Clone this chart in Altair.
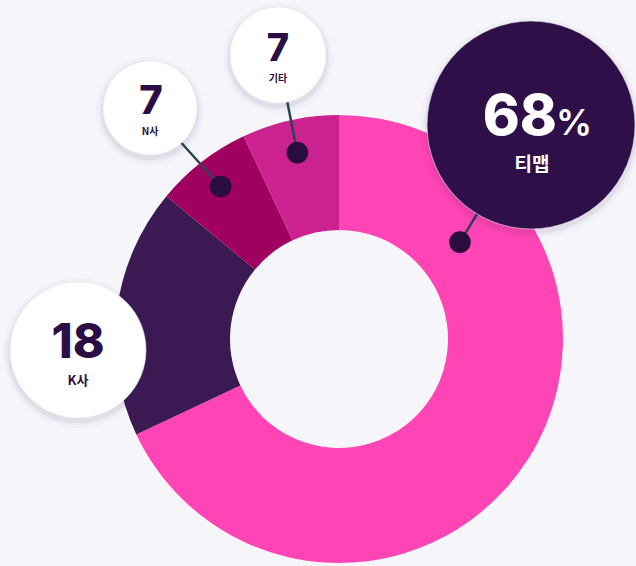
import math
import altair as alt
import pandas as pd

# ---------------- data ----------------
labels = ["티맵", "K사", "N사", "기타"]
values = [68, 18, 7, 7]
number_text = ["68", "18", "7", "7"]
unit_text = ["%", "", "", ""]

# ---------------- style / layout ----------------
W, H = 636, 566
BG = "#F6F5FA"
seg_colors = ["#FF45B5", "#3B1A53", "#A0005F", "#CB2290"]
CX, CY = 339, 339
R_OUT, R_IN = 224, 109

bubble_xy = {"티맵": (531, 125), "K사": (78, 350), "N사": (150, 108), "기타": (278, 55)}
bubble_r = {"티맵": 104, "K사": 68, "N사": 47, "기타": 48}
bubble_fill = {"티맵": "#2E0F48", "K사": "#FFFFFF", "N사": "#FFFFFF", "기타": "#FFFFFF"}
text_fill = {"티맵": "#FFFFFF", "K사": "#2A0E45", "N사": "#2A0E45", "기타": "#2A0E45"}
num_size = {"티맵": 56, "K사": 48, "N사": 40, "기타": 38}
num_dy = {"티맵": 10, "K사": 8, "N사": 6, "기타": 6}
num_dx = {"티맵": 26, "K사": 0, "N사": 1, "기타": 0}
lab_size = {"티맵": 19, "K사": 13, "N사": 10, "기타": 10}
lab_dy = {"티맵": 40, "K사": 31, "N사": 24, "기타": 24}
# dot: (angle in degrees clockwise from 12 o'clock or None = segment middle, radius)
dot_spec = {"티맵": (51.3, 155), "N사": (None, 193), "기타": (None, 191)}

total = sum(values)
starts, ends = [], []
acc = 0
for v in values:
    starts.append(acc / total * 360)
    acc += v
    ends.append(acc / total * 360)

seg_df = pd.DataFrame({"label": labels, "value": values, "idx": list(range(len(labels)))})

bub_rows, shadow_rows, line_rows, dot_rows, num_rows, unit_rows, lab_rows = [], [], [], [], [], [], []
for i, lab in enumerate(labels):
    bx, by = bubble_xy[lab]
    r = bubble_r[lab]
    bub_rows.append({"label": lab, "x": bx, "y": by, "s": (2 * r) ** 2, "fill": bubble_fill[lab]})
    for k, op in [(7, 0.025), (4, 0.035), (2, 0.05)]:
        shadow_rows.append({"label": lab, "x": bx, "y": by + 3, "s": (2 * (r + k)) ** 2, "op": op})
    if lab in dot_spec:
        ang, rad = dot_spec[lab]
        if ang is None:
            ang = (starts[i] + ends[i]) / 2
        a = math.radians(ang)
        dx = CX + rad * math.sin(a)
        dy = CY - rad * math.cos(a)
        dot_rows.append({"label": lab, "x": dx, "y": dy})
        line_rows.append({"label": lab, "x": bx, "y": by, "x2": dx, "y2": dy})
    num_rows.append({"label": lab, "x": bx + num_dx[lab], "y": by + num_dy[lab],
                     "t": number_text[i], "fs": num_size[lab], "c": text_fill[lab]})
    if unit_text[i]:
        unit_rows.append({"label": lab, "x": bx + num_dx[lab] - 1, "y": by + num_dy[lab],
                          "t": unit_text[i], "fs": 36, "c": text_fill[lab]})
    lab_rows.append({"label": lab, "x": bx + (1 if lab == "티맵" else 0), "y": by + lab_dy[lab],
                     "t": lab, "fs": lab_size[lab], "c": text_fill[lab]})

xs = alt.Scale(domain=[0, W], nice=False, zero=False)
ys = alt.Scale(domain=[0, H], nice=False, zero=False, reverse=True)
X = lambda: alt.X("x:Q", scale=xs, axis=None)
Y = lambda: alt.Y("y:Q", scale=ys, axis=None)

donut = alt.Chart(seg_df).mark_arc(radius=R_OUT, radius2=R_IN, stroke=None).encode(
    theta=alt.Theta("value:Q", stack=True),
    order=alt.Order("idx:Q"),
    color=alt.Color("label:N", scale=alt.Scale(domain=labels, range=seg_colors), legend=None),
    x=alt.value(CX),
    y=alt.value(CY),
)

shadows = alt.Chart(pd.DataFrame(shadow_rows)).mark_circle(color="#3A2A5A").encode(
    x=X(), y=Y(), size=alt.Size("s:Q", scale=None, legend=None),
    opacity=alt.Opacity("op:Q", scale=None, legend=None),
)

lines = alt.Chart(pd.DataFrame(line_rows)).mark_rule(color="#2C4255", strokeWidth=2.5).encode(
    x=X(), y=Y(), x2="x2:Q", y2="y2:Q"
)

dots = alt.Chart(pd.DataFrame(dot_rows)).mark_circle(color="#2A0C3E", opacity=1, size=470).encode(
    x=X(), y=Y()
)

bubbles = alt.Chart(pd.DataFrame(bub_rows)).mark_circle(opacity=1, stroke="#E9E7F0", strokeWidth=0.6).encode(
    x=X(), y=Y(), size=alt.Size("s:Q", scale=None, legend=None),
    color=alt.Color("fill:N", scale=None, legend=None),
)

num_df = pd.DataFrame(num_rows)
nums_c = alt.Chart(num_df[num_df["label"] != "티맵"]).mark_text(
    font="Inter", fontWeight=800, align="center", baseline="alphabetic"
).encode(
    x=X(), y=Y(), text="t:N", size=alt.Size("fs:Q", scale=None, legend=None),
    color=alt.Color("c:N", scale=None, legend=None),
)
nums_r = alt.Chart(num_df[num_df["label"] == "티맵"]).mark_text(
    font="Inter", fontWeight=800, align="right", baseline="alphabetic"
).encode(
    x=X(), y=Y(), text="t:N", size=alt.Size("fs:Q", scale=None, legend=None),
    color=alt.Color("c:N", scale=None, legend=None),
)
units = alt.Chart(pd.DataFrame(unit_rows)).mark_text(
    font="Inter", fontWeight=600, align="left", baseline="alphabetic"
).encode(
    x=X(), y=Y(), text="t:N", size=alt.Size("fs:Q", scale=None, legend=None),
    color=alt.Color("c:N", scale=None, legend=None),
)
labs = alt.Chart(pd.DataFrame(lab_rows)).mark_text(
    font="Noto Sans CJK KR", fontWeight=700, align="center", baseline="middle"
).encode(
    x=X(), y=Y(), text="t:N", size=alt.Size("fs:Q", scale=None, legend=None),
    color=alt.Color("c:N", scale=None, legend=None),
)

chart = alt.layer(donut, lines, dots, shadows, bubbles, nums_c, nums_r, units, labs).properties(
    width=W, height=H, background=BG, padding=0,
    autosize=alt.AutoSizeParams(type="none"),
).configure_view(stroke=None)

chart.save("out.html", embed_options={"renderer": "svg", "actions": False})
